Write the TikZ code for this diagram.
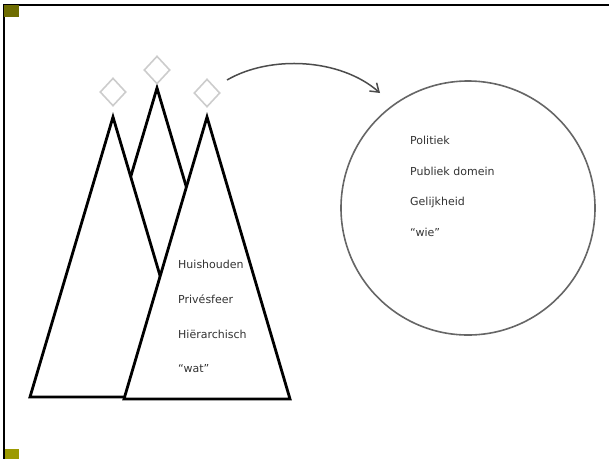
\documentclass[tikz,border=0pt]{standalone}
\usepackage{fontspec}
\setmainfont{DejaVu Sans}
\usetikzlibrary{shapes.geometric,arrows.meta}
\definecolor{olivedark}{HTML}{6E6C00}
\definecolor{olivelight}{HTML}{9C9A00}
\begin{document}
\begin{tikzpicture}[x=1pt,y=-1pt,
	tri/.style={line width=2.8pt, fill=white, line join=miter},
	kroon/.style={diamond, draw=black!20, line width=1.6pt, inner sep=0pt, minimum width=26pt, minimum height=28pt},
	label/.style={anchor=west, inner sep=0pt, text=black!80, font=\fontsize{11}{13}\selectfont}]
			\useasboundingbox (0,0) rectangle (609,459);
			% frame
			\draw[line width=2.4pt] (3,5) -- (609,5);
			\draw[line width=2.4pt] (4,5) -- (4,459);
			\fill[olivedark] (4,5) rectangle (19,17);
			\fill[olivelight] (5,449) rectangle (19,459);
			% triangles
			\draw[tri] (157,88) -- (74,368) -- (240,368) -- cycle;
			\draw[tri] (113,117) -- (30,397) -- (196,397) -- cycle;
			\draw[tri] (207,117) -- (124,399) -- (290,399) -- cycle;
			\node[kroon] (k1) at (113,92) {};
			\node[kroon] (k2) at (157,70) {};
			\node[kroon] (k3) at (207,93) {};
			\node[label] (huis) at (178,264) {Huishouden};
			\node[label] (priv) at (178,299) {Privésfeer};
			\node[label] (hier) at (178,334) {Hiërarchisch};
			\node[label] (wat) at (178,369) {“wat”};
			% circle
			\node[circle, draw=black!60, line width=1.6pt, minimum size=254pt] (publiek) at (468,208) {};
			\node[label] (pol) at (410,140) {Politiek};
			\node[label] (dom) at (410,171) {Publiek domein};
			\node[label] (gel) at (410,202) {Gelijkheid};
			\node[label] (wie) at (410,232) {“wie”};
			\coordinate (van) at (227,80);
			\coordinate (naar) at (380,93);
			\draw[-{Straight Barb[length=8pt,width=11pt]}, line width=1.5pt, black!70] (van) .. controls (270,55) and (340,58) .. (naar);
		\end{tikzpicture}
\end{document}
